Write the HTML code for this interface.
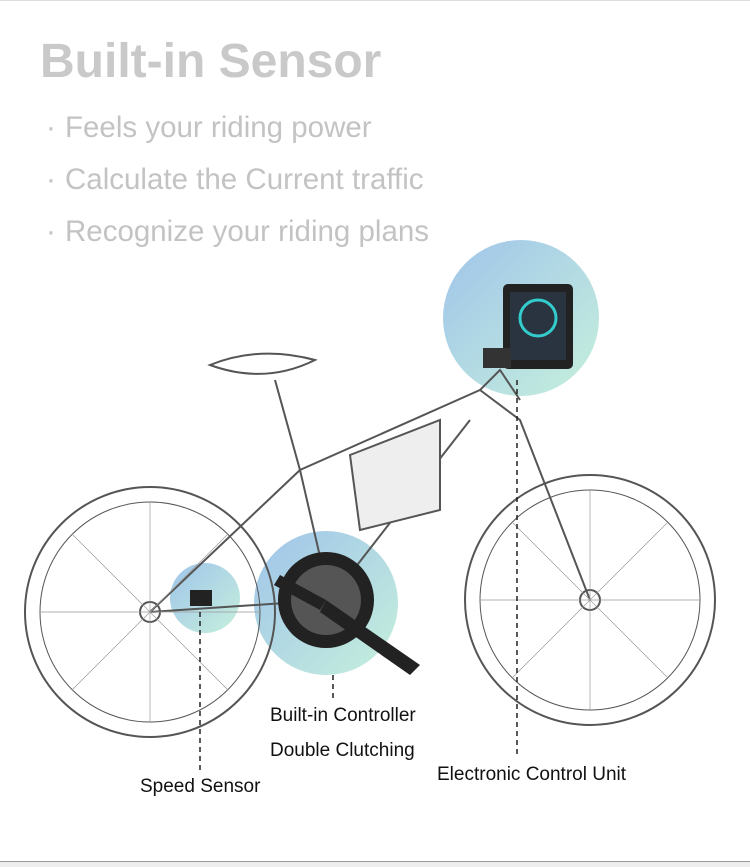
<!DOCTYPE html>
<html><head><meta charset="utf-8"><style>
body{margin:0;width:750px;height:866px;background:#fff;overflow:hidden;position:relative;font-family:"Liberation Sans",sans-serif}
.t{position:absolute;white-space:nowrap}
.b{font-size:29.5px;color:#c3c3c3}
</style></head><body>
<div style="position:absolute;left:0;top:0;width:750px;height:1px;background:#ddd"></div>
<div style="position:absolute;left:0;top:861px;width:750px;height:5px;background:#eee;border-top:1px solid #999"></div>
<div class="t" style="left:40px;top:34px;font-size:48px;font-weight:bold;color:#c9c9c9">Built-in Sensor</div>
<div class="t b" style="left:46px;top:111px">·</div><div class="t b" style="left:65px;top:111px">Feels your riding power</div>
<div class="t b" style="left:46px;top:163px">·</div><div class="t b" style="left:65px;top:163px">Calculate the Current traffic</div>
<div class="t b" style="left:46px;top:215px">·</div><div class="t b" style="left:65px;top:215px">Recognize your riding plans</div>
<svg width="750" height="866" style="position:absolute;left:0;top:0">
<defs>
<linearGradient id="g" x1="0" y1="0" x2="1" y2="1"><stop offset="0" stop-color="#9fc4ea"/><stop offset="1" stop-color="#c6f0dc"/></linearGradient>
</defs>
<circle cx="521" cy="318" r="78" fill="url(#g)"/>
<circle cx="326" cy="603" r="72" fill="url(#g)"/>
<circle cx="205" cy="598" r="35" fill="url(#g)"/>
<g fill="none" stroke="#555" stroke-width="2">
<circle cx="150" cy="612" r="125"/><circle cx="150" cy="612" r="110" stroke-width="1"/><circle cx="150" cy="612" r="10"/>
<circle cx="590" cy="600" r="125"/><circle cx="590" cy="600" r="110" stroke-width="1"/><circle cx="590" cy="600" r="10"/>
<path d="M150 612 L300 470 L480 390 L520 420 L590 600"/>
<path d="M150 612 L330 600 L300 470"/>
<path d="M330 600 L470 420"/>
<path d="M300 470 L275 380"/>
<path d="M210 365 Q260 345 315 360 Q265 385 210 365Z"/>
<path d="M480 390 L500 370 L520 400"/>
<path d="M350 455 L440 420 L440 510 L360 530Z" fill="#eee"/>
</g>
<g stroke="#999" stroke-width="0.7">
<path d="M150 502 V722 M40 612 H260 M72 534 L228 690 M72 690 L228 534 M590 490 V710 M480 600 H700 M512 522 L668 678 M512 678 L668 522"/>
</g>
<circle cx="326" cy="600" r="48" fill="#222"/><circle cx="326" cy="600" r="35" fill="#555"/>
<path d="M326 600 L420 665 L410 675 L320 612Z" fill="#222"/>
<path d="M326 600 L280 575 L274 585 L320 610Z" fill="#222"/>
<rect x="190" y="590" width="22" height="16" fill="#222"/>
<rect x="503" y="284" width="70" height="85" rx="5" fill="#222"/>
<rect x="510" y="292" width="56" height="68" fill="#2a3340"/>
<circle cx="538" cy="318" r="18" fill="none" stroke="#3cc" stroke-width="3"/>
<rect x="483" y="348" width="28" height="20" fill="#333"/>
<g stroke="#222" stroke-width="1.5" stroke-dasharray="5,4">
<line x1="333" y1="675" x2="333" y2="700"/>
<line x1="200" y1="612" x2="200" y2="770"/>
<line x1="517" y1="380" x2="517" y2="755"/>
</g>
</svg>
<div class="t" style="left:270px;top:705px;font-size:19px;color:#111">Built-in Controller</div>
<div class="t" style="left:270px;top:740px;font-size:19px;color:#111">Double Clutching</div>
<div class="t" style="left:140px;top:776px;font-size:19px;color:#111">Speed Sensor</div>
<div class="t" style="left:437px;top:764px;font-size:19px;color:#111">Electronic Control Unit</div>
</body></html>
